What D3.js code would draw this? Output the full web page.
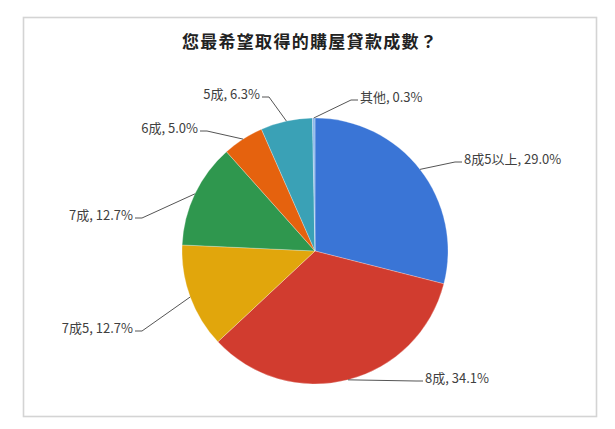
<!DOCTYPE html>
<html>
<head>
<meta charset="utf-8">
<script src="https://cdn.jsdelivr.net/npm/d3@7"></script>
<style>
  html, body { margin: 0; padding: 0; background: #fff; }
  svg { display: block; }
</style>
</head>
<body>
<svg id="chart" width="615" height="429"></svg>
<script>
// ---- data ----
const title = "您最希望取得的購屋貸款成數？";
const categories = ["8成5以上", "8成", "7成5", "7成", "6成", "5成", "其他"];
const values = [29.0, 34.1, 12.7, 12.7, 5.0, 6.3, 0.3];
const colors = ["#3a75d6", "#d13c2f", "#e1a60c", "#2f974e", "#e5620e", "#3aa1b6", "#8cb8ea"];

// ---- layout (label anchor offsets from pie centre, text side) ----
const labelAnchors = [
  {dx: 147, dy: -87, side: "right"},
  {dx: 108, dy: 132, side: "right"},
  {dx: -180, dy: 82, side: "left"},
  {dx: -180, dy: -31, side: "left"},
  {dx: -115, dy: -118, side: "left"},
  {dx: -53, dy: -152, side: "left"},
  {dx: 43, dy: -149, side: "right"}
];

const W = 615, H = 429;
const cx = 315, cy = 251, R = 133;
const svg = d3.select("#chart");

// frame
svg.append("rect")
  .attr("x", 23.5).attr("y", 17.5)
  .attr("width", 573).attr("height", 399)
  .attr("fill", "#fff")
  .attr("stroke", "#d4d4d4").attr("stroke-width", 1.6);

// title
svg.append("text")
  .attr("x", 310).attr("y", 48)
  .attr("text-anchor", "middle")
  .attr("font-family", "'Noto Sans CJK TC', 'Noto Sans', sans-serif")
  .attr("font-weight", "bold")
  .attr("font-size", 17)
  .attr("letter-spacing", 1.3)
  .attr("fill", "#222")
  .text(title);

const data = categories.map((c, i) => ({cat: c, value: values[i], color: colors[i], anchor: labelAnchors[i]}));

const pie = d3.pie().sort(null).value(d => d.value);
const arc = d3.arc().innerRadius(0).outerRadius(R);
const arcs = pie(data);

const g = svg.append("g").attr("transform", `translate(${cx},${cy})`);

g.selectAll("path.slice")
  .data(arcs)
  .join("path")
  .attr("class", "slice")
  .attr("d", arc)
  .attr("fill", d => d.data.color)
  .attr("stroke", "rgba(255,255,255,0.45)")
  .attr("stroke-width", 0.6);

// leader lines + labels
const fmt = d3.format(".1f");
arcs.forEach(d => {
  const mid = (d.startAngle + d.endAngle) / 2;
  const px = R * Math.sin(mid), py = -R * Math.cos(mid);
  const a = d.data.anchor;
  const sgn = a.side === "right" ? 1 : -1;
  const kneeX = a.dx - sgn * 7;
  const lineY = a.dy - 2;
  g.append("polyline")
    .attr("points", `${px},${py} ${kneeX},${lineY} ${a.dx},${lineY}`)
    .attr("fill", "none")
    .attr("stroke", "#555")
    .attr("stroke-width", 1);
  g.append("text")
    .attr("x", a.dx + sgn * 2)
    .attr("y", a.dy)
    .attr("text-anchor", a.side === "right" ? "start" : "end")
    .attr("font-family", "'Noto Sans CJK TC', 'Noto Sans', sans-serif")
    .attr("font-size", 13)
    .attr("fill", "#404040")
    .text(`${d.data.cat}, ${fmt(d.data.value)}%`);
});
</script>
</body>
</html>
